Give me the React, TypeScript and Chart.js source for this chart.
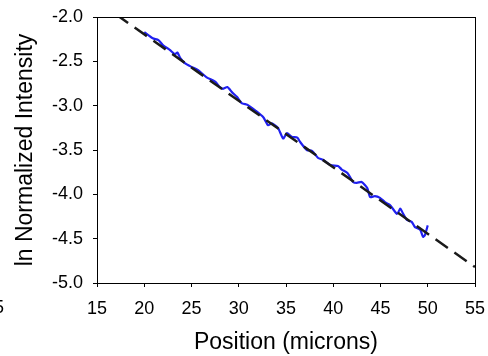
import { useEffect, useRef } from "react";
import { Chart, registerables } from "chart.js";

Chart.register(...registerables);

// Measured profile (ln normalized intensity vs position in microns)
const positionMicrons = [
  20.0, 20.9, 21.5, 22.0, 22.7, 23.25, 23.5, 23.8, 24.3, 24.95, 25.7, 26.6, 27.5, 28.0,
  28.3, 28.8, 29.3, 29.8, 30.3, 30.9, 31.2, 31.7, 32.6, 33.1, 33.5, 34.15, 34.7, 35.1,
  35.6, 36.2, 36.5, 37.2, 37.75, 38.4, 38.9, 39.7, 40.5, 40.9, 41.5, 42.1, 42.5, 43.0,
  43.6, 43.9, 44.4, 44.95, 45.5, 46.0, 46.75, 47.1, 47.3, 47.8, 48.3, 48.65, 49.2, 49.5,
  49.7, 50.0,
];
const lnIntensity = [
  -2.17, -2.24, -2.26, -2.32, -2.37, -2.42, -2.4, -2.46, -2.52, -2.56, -2.6, -2.68, -2.73, -2.79,
  -2.81, -2.79, -2.85, -2.9, -2.97, -2.99, -3.01, -3.05, -3.13, -3.22, -3.2, -3.25, -3.37, -3.31,
  -3.35, -3.36, -3.41, -3.5, -3.51, -3.59, -3.61, -3.67, -3.68, -3.72, -3.76, -3.86, -3.87, -3.86,
  -3.93, -4.03, -4.02, -4.04, -4.09, -4.12, -4.22, -4.16, -4.2, -4.29, -4.31, -4.37, -4.4, -4.48,
  -4.46, -4.35,
];

// Linear fit (dashed)
const fitX = [15, 55];
const fitY = [-1.82, -4.82];

const xTicks = [15, 20, 25, 30, 35, 40, 45, 50, 55];
const yTicks = [-2.0, -2.5, -3.0, -3.5, -4.0, -4.5, -5.0];

const FONT = "'Liberation Sans', Arial, Helvetica, sans-serif";

const boxPlugin = {
  id: "plotBox",
  afterDraw(chart: any) {
    const { ctx, chartArea } = chart;
    const { left, top, right, bottom } = chartArea;
    ctx.save();
    ctx.strokeStyle = "#000";
    ctx.lineWidth = 1;
    ctx.strokeRect(Math.round(left) + 0.5, Math.round(top) + 0.5, Math.round(right - left), Math.round(bottom - top));
    ctx.restore();
  },
};

export default function App() {
  const ref = useRef<HTMLCanvasElement | null>(null);

  useEffect(() => {
    if (!ref.current) return;
    const chart = new Chart(ref.current, {
      type: "line",
      data: {
        datasets: [
          {
            label: "Fit",
            data: fitX.map((x, i) => ({ x, y: fitY[i] })),
            borderColor: "#1a1a1a",
            borderWidth: 2.5,
            borderDash: [15, 8],
            pointRadius: 0,
            fill: false,
            tension: 0,
          },
          {
            label: "Profile",
            data: positionMicrons.map((x, i) => ({ x, y: lnIntensity[i] })),
            borderColor: "#2020f0",
            borderWidth: 2.2,
            pointRadius: 0,
            fill: false,
            tension: 0.2,
          },
        ],
      },
      options: {
        animation: false,
        responsive: false,
        maintainAspectRatio: false,
        layout: { padding: { top: 17, right: 13, left: 0, bottom: 0 } },
        plugins: {
          legend: { display: false },
          tooltip: { enabled: false },
        },
        scales: {
          x: {
            type: "linear",
            min: 15,
            max: 55,
            afterBuildTicks: (s: any) => {
              s.ticks = xTicks.map((v) => ({ value: v }));
            },
            afterFit: (s: any) => {
              s.height = 73;
              s.paddingLeft = 0;
              s.paddingRight = 0;
            },
            grid: { drawOnChartArea: false, drawTicks: true, tickLength: 4, color: "#000" },
            border: { display: true, color: "#000", width: 1 },
            ticks: {
              color: "#000",
              font: { family: FONT, size: 18 },
              padding: 11,
              maxRotation: 0,
              callback: (v: any) => String(v),
            },
            title: {
              display: true,
              text: "Position (microns)",
              color: "#000",
              font: { family: FONT, size: 23 },
              padding: { top: 0, bottom: 0 },
            },
          },
          y: {
            type: "linear",
            min: -5,
            max: -2,
            afterBuildTicks: (s: any) => {
              s.ticks = yTicks.map((v) => ({ value: v }));
            },
            afterFit: (s: any) => {
              s.width = 97;
              s.paddingTop = 0;
              s.paddingBottom = 0;
            },
            grid: { drawOnChartArea: false, drawTicks: true, tickLength: 4, color: "#000" },
            border: { display: true, color: "#000", width: 1 },
            ticks: {
              color: "#000",
              font: { family: FONT, size: 18 },
              padding: 10,
              callback: (v: any) => Number(v).toFixed(1),
            },
            title: {
              display: true,
              text: "ln Normalized Intensity",
              color: "#000",
              font: { family: FONT, size: 23 },
              padding: { top: 12, bottom: 0 },
            },
          },
        },
      },
      plugins: [boxPlugin],
    });
    return () => chart.destroy();
  }, []);

  return (
    <div style={{ position: "absolute", left: 0, top: 0, width: 488, height: 356, overflow: "hidden", background: "#fff" }}>
      <canvas ref={ref} width={488} height={356} style={{ display: "block" }} />
      <span
        style={{
          position: "absolute",
          left: -6,
          top: 297,
          fontFamily: FONT,
          fontSize: 18,
          lineHeight: "20px",
          color: "#000",
        }}
      >
        5
      </span>
    </div>
  );
}
